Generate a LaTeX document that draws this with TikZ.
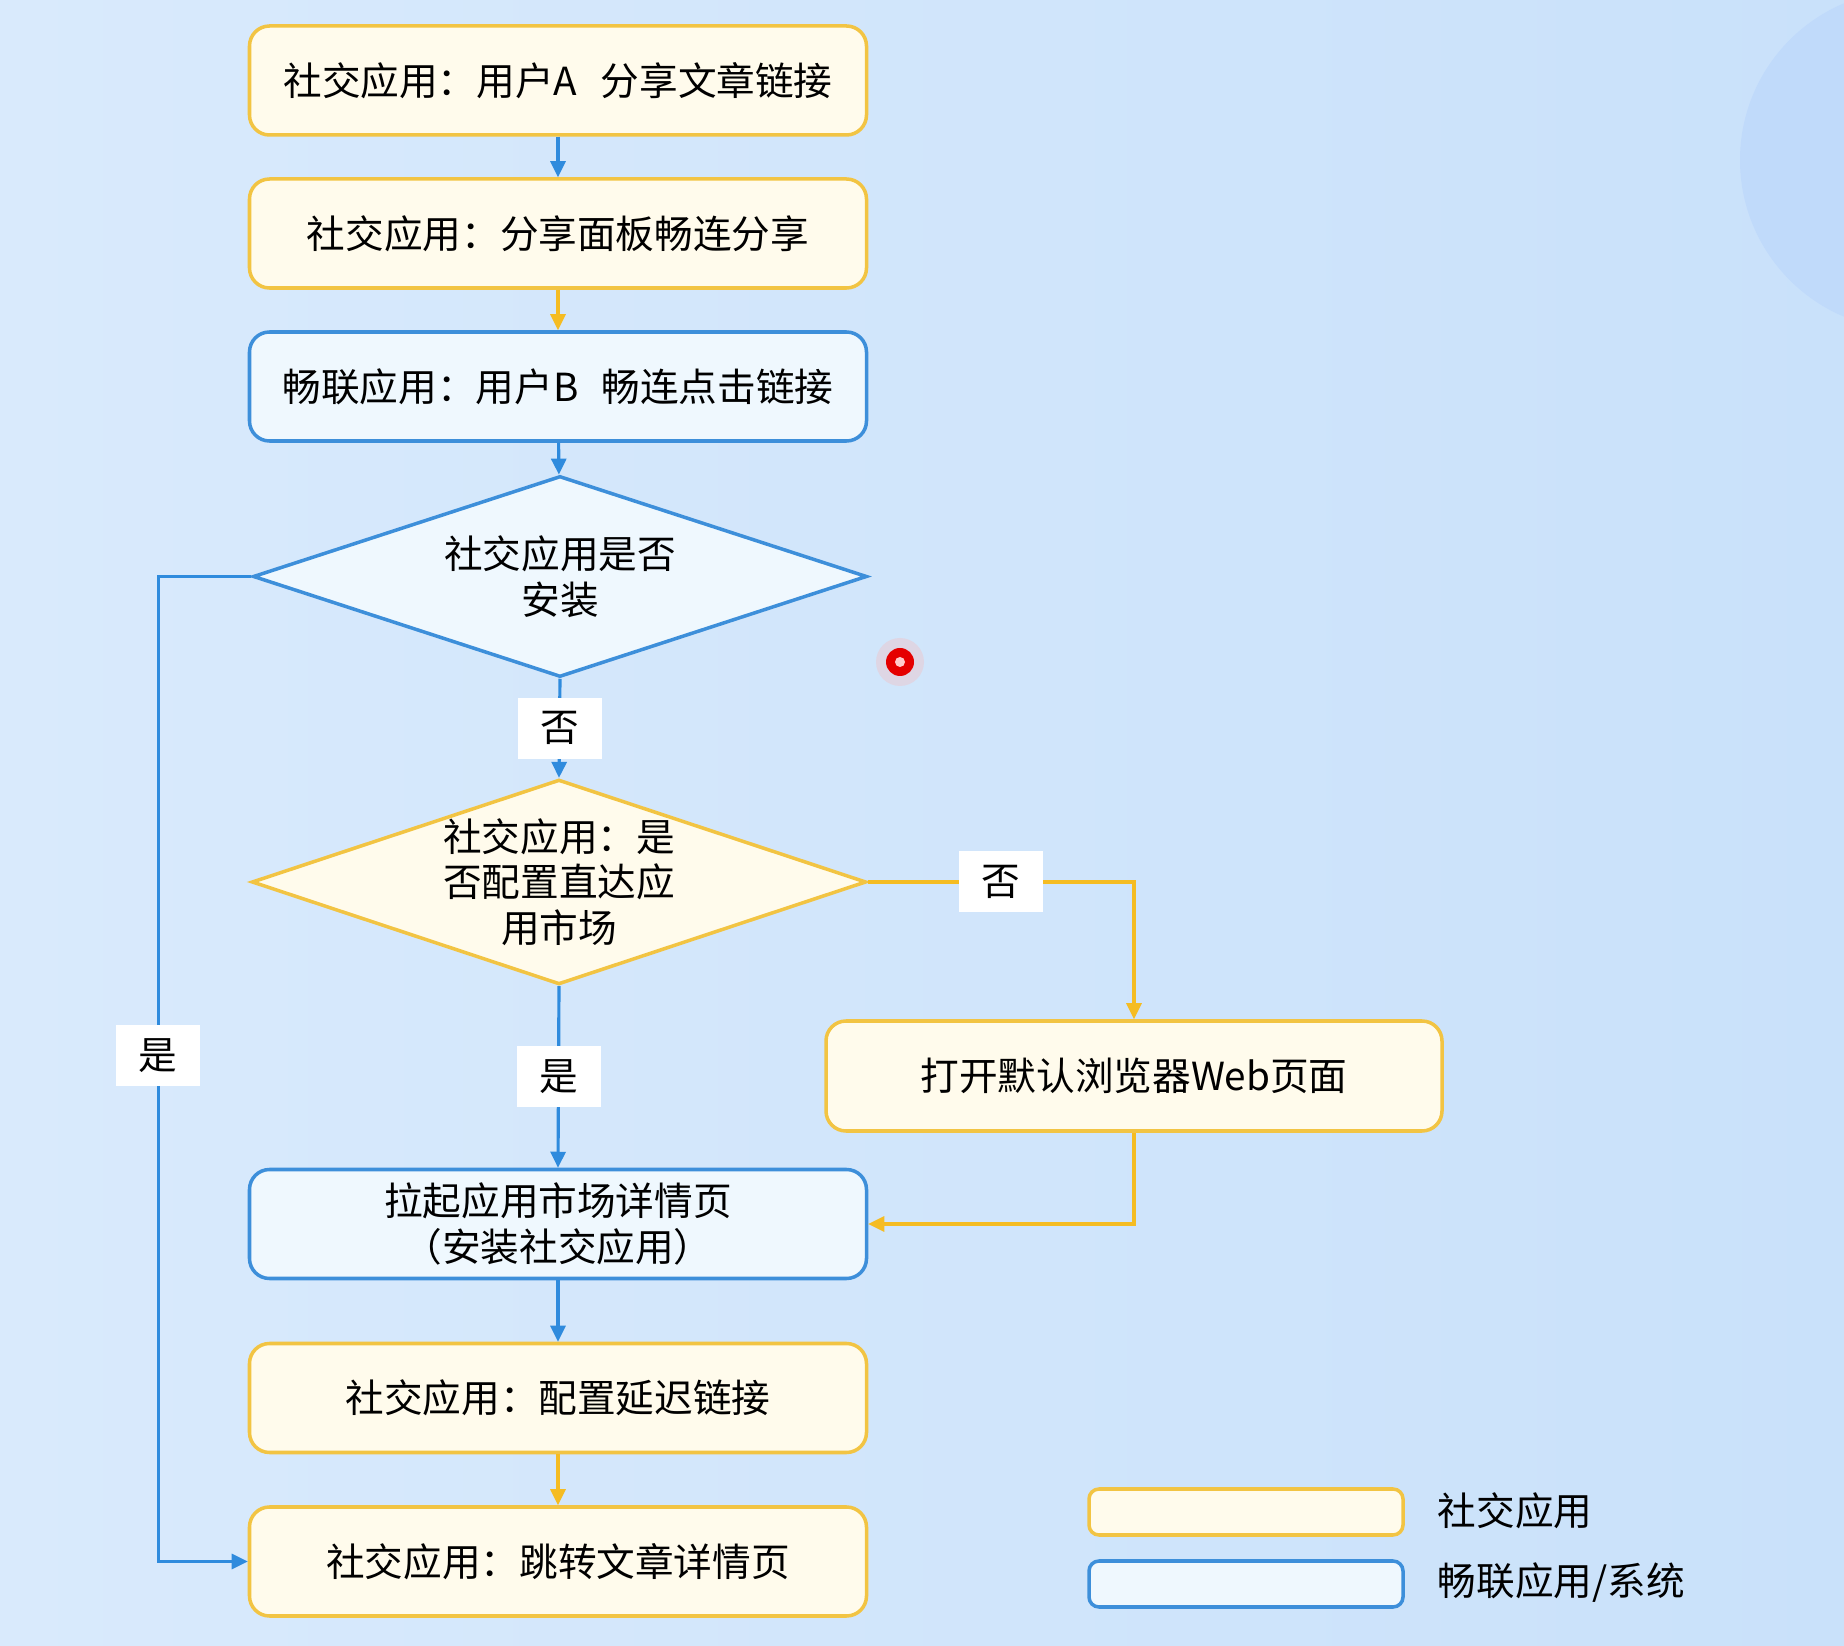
\documentclass[tikz,border=0pt]{standalone}
\usepackage{fontspec}
\usepackage{xcolor}
\usepackage{tikz}
\usetikzlibrary{arrows.meta,shapes.geometric}
\newfontfamily\cjkfont{Noto Sans CJK SC}

\definecolor{socialline}{HTML}{F2C443}
\definecolor{socialfill}{HTML}{FFFBEC}
\definecolor{sysline}{HTML}{3D8FDA}
\definecolor{sysfill}{HTML}{EFF8FE}
\definecolor{bluearrowc}{HTML}{2F8BDD}
\definecolor{yellowarrowc}{HTML}{F5BC22}
\definecolor{bgleft}{HTML}{D9EAFC}
\definecolor{bgright}{HTML}{C9E1FA}
\definecolor{blobc}{HTML}{C0DAFA}

\tikzset{
    appbox/.style={draw=socialline, fill=socialfill, line width=1pt, rounded corners=0.2cm,
        minimum width=6.17cm, minimum height=1.09cm, align=center},
    sysbox/.style={appbox, draw=sysline, fill=sysfill},
    decision/.style={diamond, aspect=3, inner sep=0pt, line width=1pt,
        minimum width=6.14cm, minimum height=2.01cm, align=center},
    legendbox/.style={line width=1pt, rounded corners=0.1cm, minimum width=3.14cm, minimum height=0.46cm},
    branch/.style={fill=white, minimum width=0.84cm, minimum height=0.61cm, inner sep=0pt},
    bluearrow/.style={draw=bluearrowc, line width=0.9pt, -{Triangle[length=1.6mm,width=1.5mm]}},
    yellowarrow/.style={draw=yellowarrowc, line width=0.9pt, -{Triangle[length=1.6mm,width=1.5mm]}}
}

\begin{document}
\begin{tikzpicture}[font=\cjkfont\fontsize{11}{13}\selectfont]
    % Background
    \useasboundingbox (0,0) rectangle (18.44,-16.46);
    \shade[left color=bgleft, right color=bgright] (0,0) rectangle (18.44,-16.46);
    \begin{scope}
        \clip (0,0) rectangle (18.44,-16.46);
        \fill[blobc] (19.10,-1.60) circle (1.70);
    \end{scope}
    \fill[red!30, opacity=0.3] (9.00,-6.62) circle (0.24);
    \fill[red!90!black] (9.00,-6.62) circle (0.14);
    \fill[white!80!red] (9.00,-6.62) circle (0.05);

    % Main column
    \node[appbox] (b1) at (5.58,-0.805) {社交应用：用户A\hspace{0.6em}分享文章链接};
    \node[appbox] (b2) at (5.58,-2.335) {社交应用：分享面板畅连分享};
    \node[sysbox] (b3) at (5.58,-3.865) {畅联应用：用户B\hspace{0.6em}畅连点击链接};
    \node[decision, draw=sysline, fill=sysfill] (d1) at (5.60,-5.765) {社交应用是否\\安装};
    \node[decision, draw=socialline, fill=socialfill] (d2) at (5.59,-8.82) {社交应用：是\\否配置直达应\\用市场};
    \node[appbox, minimum width=6.16cm, minimum height=1.10cm] (web) at (11.34,-10.76) {打开默认浏览器Web页面};
    \node[sysbox] (b4) at (5.58,-12.24) {拉起应用市场详情页\\（安装社交应用）};
    \node[appbox] (b5) at (5.58,-13.98) {社交应用：配置延迟链接};
    \node[appbox] (b6) at (5.58,-15.615) {社交应用：跳转文章详情页};

    % Connectors
    \draw[bluearrow] (b1) -- (b2);
    \draw[yellowarrow] (b2) -- (b3);
    \draw[bluearrow] (b3) -- (d1);
    \draw[bluearrow] (d1.south) -- node[branch] {否} (d2.north);
    \draw[bluearrow] (d2.south) -- node[branch] {是} (b4.north);
    \draw[yellowarrow] (d2.east) -| node[branch, pos=0.25] {否} (web.north);
    \draw[yellowarrow] (web.south) |- (b4.east);
    \draw[bluearrow] (b4) -- (b5);
    \draw[yellowarrow] (b5) -- (b6);
    \draw[bluearrow] (d1.west) -- ++(-0.93,0) |- node[branch, pos=0.243] {是} (b6.west);

    % Legend
    \node[legendbox, draw=socialline, fill=socialfill] (lg1) at (12.46,-15.12) {};
    \node[legendbox, draw=sysline, fill=sysfill] (lg2) at (12.46,-15.84) {};
    \node[anchor=west, inner sep=0pt] (lt1) at (14.37,-15.11) {社交应用};
    \node[anchor=west, inner sep=0pt] (lt2) at (14.37,-15.83) {畅联应用/系统};
\end{tikzpicture}
\end{document}
